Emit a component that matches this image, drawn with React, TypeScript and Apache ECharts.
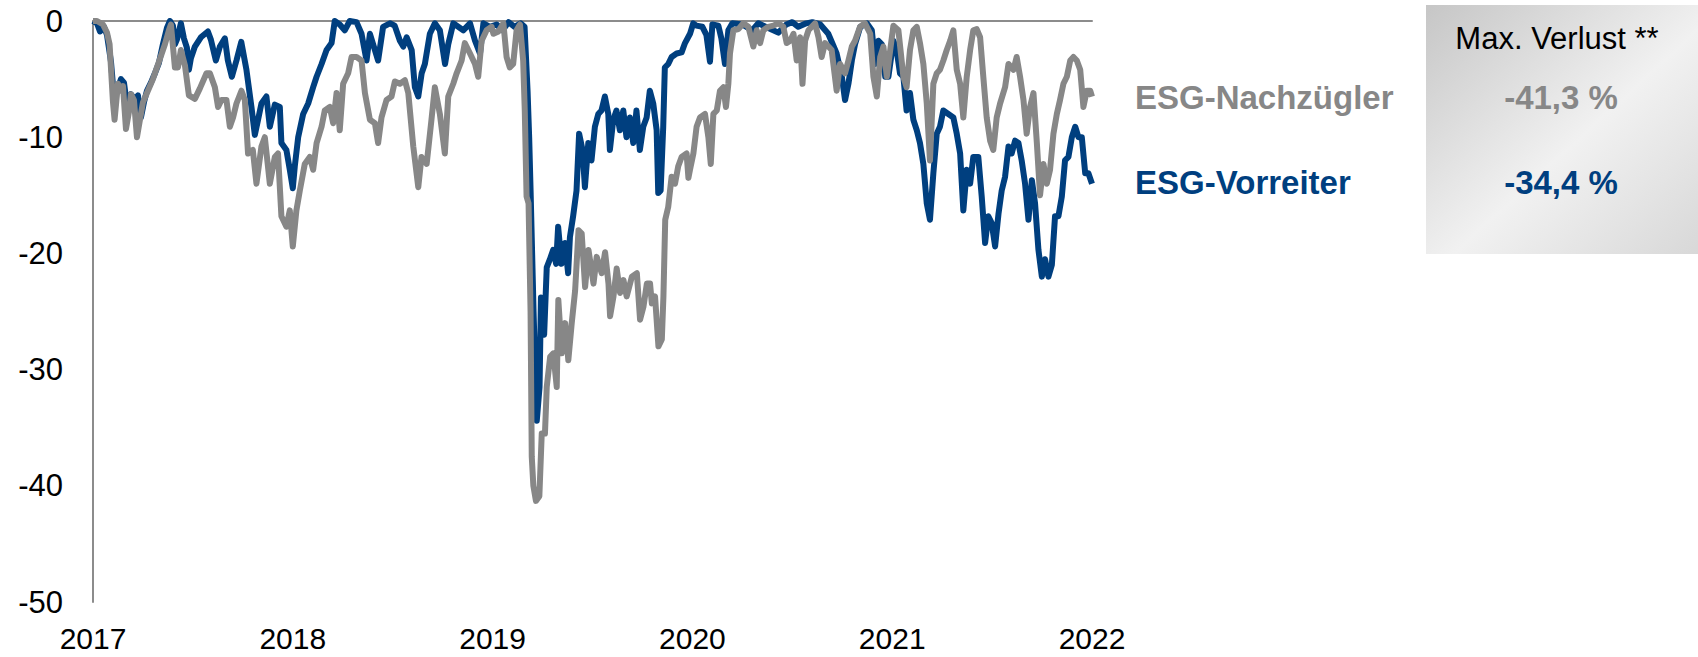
import React, { useEffect, useRef } from "react";
import * as echarts from "echarts";

type Pt = [number, number];

// x = decimal year, y = drawdown in %
const vorreiter2017: Pt[] = [
  [2017.0, 0], [2017.02, -0.2], [2017.035, -0.9], [2017.055, -0.5], [2017.07, -1.2], [2017.09, -3.5],
  [2017.105, -6.5], [2017.12, -6.0], [2017.14, -5.0], [2017.155, -5.3], [2017.17, -7.2], [2017.19, -6.3],
  [2017.21, -6.8], [2017.225, -6.4], [2017.24, -8.3], [2017.255, -7.0], [2017.27, -6.0], [2017.29, -5.3],
  [2017.31, -4.5], [2017.33, -3.6], [2017.35, -2.0], [2017.37, -0.6], [2017.385, 0], [2017.4, -0.4],
  [2017.41, -2.0], [2017.42, -1.6], [2017.44, -0.2], [2017.455, -1.5], [2017.47, -2.3], [2017.48, -4.2],
  [2017.49, -3.2], [2017.51, -2.2], [2017.54, -1.4], [2017.575, -0.9], [2017.59, -1.6], [2017.615, -3.4],
  [2017.635, -2.2], [2017.66, -1.5], [2017.675, -3.4], [2017.695, -4.8], [2017.718, -3.4], [2017.742, -1.8],
  [2017.768, -4.2], [2017.793, -7.4], [2017.81, -9.8], [2017.826, -8.5], [2017.843, -7.1], [2017.868, -6.5],
  [2017.885, -9.1], [2017.91, -7.2], [2017.935, -7.4], [2017.943, -10.5], [2017.968, -11.1], [2017.985, -12.8],
];
const vorreiter2018: Pt[] = [
  [2018.0, -14.4], [2018.01, -12.5], [2018.027, -10.0], [2018.052, -8.0], [2018.077, -7.1], [2018.102, -5.7],
  [2018.119, -4.8], [2018.144, -3.7], [2018.169, -2.5], [2018.194, -1.9], [2018.21, 0], [2018.235, -0.3],
  [2018.26, -0.8], [2018.285, 0], [2018.319, -0.1], [2018.344, -1.1], [2018.369, -3.4], [2018.386, -1.1],
  [2018.411, -2.5], [2018.427, -3.4], [2018.452, -0.5], [2018.486, -0.2], [2018.51, -0.4], [2018.536, -1.7],
  [2018.553, -2.2], [2018.57, -1.4], [2018.595, -2.5], [2018.611, -5.7], [2018.628, -6.5], [2018.645, -4.5],
  [2018.661, -3.7], [2018.686, -1.1], [2018.711, -0.2], [2018.736, -0.8], [2018.762, -3.7], [2018.778, -2.0],
  [2018.803, -0.2], [2018.853, -0.8], [2018.887, -0.2], [2018.912, -1.7], [2018.937, -2.8], [2018.954, -0.2],
  [2018.987, -0.5],
];
const vorreiter2019: Pt[] = [
  [2019.02, -0.3], [2019.05, -0.8], [2019.08, -0.1], [2019.11, -0.5], [2019.14, -0.2], [2019.16, -0.5],
  [2019.175, -6.0], [2019.183, -10.0], [2019.19, -14.5], [2019.205, -25.0], [2019.221, -34.4], [2019.235, -31.5],
  [2019.242, -23.8], [2019.258, -27.0], [2019.271, -21.2], [2019.287, -20.5], [2019.303, -19.7], [2019.318, -20.9],
  [2019.328, -17.7], [2019.345, -20.9], [2019.362, -19.1], [2019.378, -21.7], [2019.387, -18.6], [2019.403, -16.8],
  [2019.42, -14.6], [2019.433, -9.7], [2019.45, -11.1], [2019.462, -14.3], [2019.479, -10.5], [2019.495, -12.0],
  [2019.512, -9.1], [2019.529, -8.0], [2019.545, -7.7], [2019.562, -6.5], [2019.579, -8.0], [2019.587, -11.1],
  [2019.604, -8.5], [2019.62, -7.7], [2019.637, -9.4], [2019.654, -7.7], [2019.67, -10.0], [2019.687, -8.3],
  [2019.704, -10.5], [2019.72, -7.7], [2019.737, -11.1], [2019.754, -9.1], [2019.771, -8.3], [2019.787, -6.0],
  [2019.804, -7.1], [2019.821, -9.4], [2019.829, -14.8], [2019.841, -14.6], [2019.854, -9.1], [2019.862, -4.0],
  [2019.879, -3.7], [2019.896, -3.1], [2019.921, -2.8], [2019.946, -2.7], [2019.963, -1.9], [2019.988, -1.1],
];
const vorreiter2020: Pt[] = [
  [2020.004, -0.2], [2020.02, -0.4], [2020.05, -0.5], [2020.07, -1.2], [2020.088, -3.5], [2020.1, -0.3],
  [2020.13, -0.4], [2020.145, -1.5], [2020.163, -3.7], [2020.18, -0.8], [2020.2, -0.2], [2020.25, -0.3],
  [2020.3, -0.8], [2020.33, -0.2], [2020.38, -0.6], [2020.43, -1.0], [2020.47, -0.3], [2020.5, -0.1],
  [2020.53, -0.5], [2020.57, -0.2], [2020.6, -0.1], [2020.64, -0.3], [2020.68, -1.1], [2020.722, -2.8],
  [2020.748, -4.8], [2020.764, -6.8], [2020.781, -5.4], [2020.798, -3.4], [2020.814, -2.0], [2020.84, -0.5],
  [2020.873, -0.2], [2020.898, -0.8], [2020.915, -3.7], [2020.931, -1.7], [2020.948, -2.0], [2020.965, -4.8],
  [2020.981, -4.8],
];
const vorreiter2021: Pt[] = [
  [2021.006, -1.7], [2021.022, -2.5], [2021.039, -4.5], [2021.056, -4.8], [2021.072, -7.7], [2021.089, -6.2],
  [2021.106, -8.5], [2021.123, -9.4], [2021.139, -10.5], [2021.156, -12.3], [2021.173, -15.7], [2021.189, -17.1],
  [2021.206, -13.1], [2021.223, -9.7], [2021.239, -9.1], [2021.256, -7.7], [2021.281, -8.0], [2021.306, -8.3],
  [2021.323, -9.7], [2021.34, -11.4], [2021.356, -16.3], [2021.373, -12.8], [2021.39, -14.0], [2021.406, -11.7],
  [2021.431, -11.7], [2021.448, -15.1], [2021.465, -19.1], [2021.481, -16.8], [2021.498, -17.4], [2021.515, -19.4],
  [2021.532, -16.6], [2021.548, -14.6], [2021.565, -13.4], [2021.582, -10.8], [2021.598, -11.4], [2021.615, -10.3],
  [2021.632, -10.5], [2021.648, -12.0], [2021.665, -14.0], [2021.682, -17.1], [2021.699, -13.7], [2021.715, -15.7],
  [2021.732, -19.7], [2021.749, -22.0], [2021.765, -20.5], [2021.782, -22.0], [2021.799, -21.0], [2021.815, -16.8],
  [2021.832, -16.8], [2021.849, -15.1], [2021.865, -12.0], [2021.882, -11.7], [2021.899, -10.0], [2021.916, -9.1],
  [2021.932, -10.0], [2021.949, -10.0], [2021.966, -13.1], [2021.982, -13.1], [2022.0, -14.0],
];

const nachzuegler2017: Pt[] = [
  [2017.0, 0], [2017.02, 0], [2017.05, -0.3], [2017.07, -1.0], [2017.083, -2.0], [2017.1, -7.0],
  [2017.108, -8.5], [2017.125, -5.4], [2017.14, -6.0], [2017.15, -5.6], [2017.165, -9.3], [2017.18, -7.8],
  [2017.19, -6.3], [2017.205, -6.8], [2017.22, -10.0], [2017.235, -8.5], [2017.25, -7.0], [2017.27, -6.2],
  [2017.3, -5.0], [2017.33, -3.5], [2017.36, -2.0], [2017.38, -0.8], [2017.39, -0.3], [2017.41, -4.0],
  [2017.425, -4.0], [2017.44, -2.5], [2017.46, -3.8], [2017.48, -6.4], [2017.51, -6.7], [2017.535, -5.8],
  [2017.568, -4.5], [2017.585, -4.5], [2017.61, -5.7], [2017.626, -7.4], [2017.643, -6.8], [2017.668, -6.8],
  [2017.685, -9.1], [2017.701, -8.3], [2017.718, -7.1], [2017.743, -6.0], [2017.76, -6.8], [2017.776, -11.4],
  [2017.8, -11.1], [2017.818, -14.0], [2017.843, -10.8], [2017.86, -10.0], [2017.885, -14.0], [2017.91, -11.7],
  [2017.926, -11.4], [2017.943, -16.8], [2017.968, -17.7], [2017.985, -16.3],
];
const nachzuegler2018: Pt[] = [
  [2018.0, -19.4], [2018.018, -16.3], [2018.035, -14.6], [2018.06, -12.3], [2018.085, -11.7], [2018.102, -12.8],
  [2018.119, -10.5], [2018.144, -9.1], [2018.16, -7.7], [2018.185, -7.4], [2018.202, -8.8], [2018.219, -6.2],
  [2018.235, -9.4], [2018.252, -5.4], [2018.277, -4.5], [2018.294, -3.1], [2018.319, -3.1], [2018.344, -3.4],
  [2018.361, -6.2], [2018.386, -8.5], [2018.411, -8.8], [2018.427, -10.5], [2018.444, -8.3], [2018.469, -6.8],
  [2018.494, -6.5], [2018.511, -5.2], [2018.536, -5.4], [2018.561, -5.1], [2018.578, -6.2], [2018.603, -10.8],
  [2018.628, -14.3], [2018.644, -11.7], [2018.67, -12.3], [2018.694, -8.5], [2018.711, -5.7], [2018.736, -8.0],
  [2018.761, -11.4], [2018.778, -6.5], [2018.803, -5.4], [2018.82, -4.5], [2018.845, -3.4], [2018.861, -1.9],
  [2018.887, -2.8], [2018.912, -3.7], [2018.928, -4.8], [2018.945, -1.7], [2018.97, -0.8], [2018.995, -0.5],
];
const nachzuegler2019: Pt[] = [
  [2019.004, -1.1], [2019.029, -0.9], [2019.054, -0.2], [2019.07, -3.1], [2019.086, -4.0], [2019.103, -3.7],
  [2019.12, -0.8], [2019.137, -0.3], [2019.153, -3.4], [2019.161, -7.7], [2019.17, -15.1], [2019.18, -15.7],
  [2019.19, -25.0], [2019.196, -37.5], [2019.204, -40.0], [2019.217, -41.3], [2019.234, -40.9], [2019.246, -35.5],
  [2019.262, -35.5], [2019.271, -31.5], [2019.288, -28.9], [2019.304, -28.6], [2019.321, -31.5], [2019.329, -24.0],
  [2019.346, -28.6], [2019.363, -26.0], [2019.379, -29.2], [2019.396, -26.0], [2019.413, -23.2], [2019.43, -18.0],
  [2019.446, -18.3], [2019.463, -22.9], [2019.48, -19.7], [2019.505, -22.6], [2019.521, -20.3], [2019.546, -21.7],
  [2019.563, -19.9], [2019.58, -22.6], [2019.588, -25.4], [2019.605, -23.7], [2019.621, -21.3], [2019.638, -23.4],
  [2019.655, -22.3], [2019.671, -23.7], [2019.697, -22.0], [2019.722, -21.7], [2019.738, -25.7], [2019.755, -24.6],
  [2019.772, -22.6], [2019.788, -22.6], [2019.797, -24.3], [2019.813, -23.7], [2019.83, -28.0], [2019.847, -27.4],
  [2019.855, -23.7], [2019.864, -17.1], [2019.879, -16.0], [2019.896, -13.4], [2019.913, -14.0], [2019.929, -12.5],
  [2019.946, -11.7], [2019.971, -11.4], [2019.98, -13.5], [2019.988, -12.8],
];
const nachzuegler2020: Pt[] = [
  [2020.005, -11.4], [2020.021, -9.1], [2020.038, -8.3], [2020.063, -8.0], [2020.08, -10.0], [2020.092, -12.3],
  [2020.105, -8.0], [2020.122, -7.7], [2020.138, -6.0], [2020.155, -5.7], [2020.168, -7.4], [2020.18, -5.4],
  [2020.188, -2.8], [2020.205, -0.8], [2020.23, -0.7], [2020.255, -0.2], [2020.28, -0.5], [2020.305, -2.2],
  [2020.322, -0.8], [2020.339, -1.9], [2020.355, -0.8], [2020.38, -0.5], [2020.405, -0.4], [2020.43, -0.2],
  [2020.455, -0.5], [2020.472, -1.9], [2020.489, -1.7], [2020.506, -1.1], [2020.522, -3.4], [2020.539, -1.4],
  [2020.551, -5.4], [2020.564, -1.7], [2020.581, -0.8], [2020.597, -0.5], [2020.614, -0.2], [2020.631, -1.4],
  [2020.647, -3.1], [2020.664, -1.9], [2020.681, -2.2], [2020.697, -2.5], [2020.722, -6.0], [2020.739, -3.7],
  [2020.764, -4.5], [2020.781, -3.4], [2020.798, -2.2], [2020.814, -1.7], [2020.839, -0.5], [2020.864, -0.2],
  [2020.89, -1.1], [2020.906, -4.8], [2020.923, -6.5], [2020.94, -3.1], [2020.956, -2.2], [2020.973, -4.8],
  [2020.99, -2.5],
];
const nachzuegler2021: Pt[] = [
  [2021.006, -0.4], [2021.031, -0.8], [2021.056, -4.8], [2021.072, -5.7], [2021.089, -2.5], [2021.106, -0.8],
  [2021.123, -0.5], [2021.139, -1.9], [2021.156, -3.7], [2021.173, -7.1], [2021.189, -12.0], [2021.206, -5.4],
  [2021.223, -4.5], [2021.239, -4.2], [2021.256, -3.4], [2021.273, -2.5], [2021.29, -1.7], [2021.306, -0.8],
  [2021.323, -4.2], [2021.34, -5.4], [2021.356, -8.3], [2021.373, -4.8], [2021.39, -2.5], [2021.406, -0.8],
  [2021.423, -0.7], [2021.44, -1.4], [2021.456, -4.8], [2021.473, -8.3], [2021.49, -10.3], [2021.506, -11.1],
  [2021.523, -8.3], [2021.54, -7.1], [2021.565, -5.7], [2021.582, -3.7], [2021.607, -4.2], [2021.623, -3.1],
  [2021.64, -4.8], [2021.657, -6.8], [2021.673, -9.7], [2021.69, -7.4], [2021.707, -6.2], [2021.724, -10.5],
  [2021.74, -15.0], [2021.757, -12.3], [2021.774, -14.0], [2021.79, -12.8], [2021.807, -9.7], [2021.824, -8.0],
  [2021.84, -6.8], [2021.857, -5.4], [2021.874, -4.8], [2021.891, -3.4], [2021.907, -3.1], [2021.924, -3.4],
  [2021.941, -4.2], [2021.957, -7.4], [2021.974, -6.0], [2021.991, -6.0], [2022.0, -6.5],
];

const vorreiter: Pt[] = [...vorreiter2017, ...vorreiter2018, ...vorreiter2019, ...vorreiter2020, ...vorreiter2021];
const nachzuegler: Pt[] = [
  ...nachzuegler2017, ...nachzuegler2018, ...nachzuegler2019, ...nachzuegler2020, ...nachzuegler2021,
];

const yearTicks = [2017, 2018, 2019, 2020, 2021, 2022];
const seriesNames = ["ESG-Vorreiter", "ESG-Nachzügler"];
const maxLoss = ["-34,4 %", "-41,3 %"];
const tableHeader = "Max. Verlust **";

const BLUE = "#003f7f";
const GREY = "#878787";
const AXIS = "#8c8c8c";
const FONT = '"Liberation Sans", Arial, sans-serif';

export default function App() {
  const ref = useRef<HTMLDivElement>(null);

  useEffect(() => {
    if (!ref.current) return;
    const chart = echarts.init(ref.current, undefined, { renderer: "svg" });
    const grad = new echarts.graphic.LinearGradient(0, 0, 1, 1, [
      { offset: 0, color: "#c6c6c6" },
      { offset: 0.55, color: "#f1f1f1" },
      { offset: 1, color: "#d8d8d8" },
    ]);
    const txt = (text: string, x: number, y: number, fill: string, font: string, align: string) => ({
      type: "text",
      x,
      y,
      style: {
        text,
        fill,
        font,
        textAlign: align,
        textVerticalAlign: "middle",
        align,
        verticalAlign: "middle",
      },
    });
    chart.setOption({
      animation: false,
      backgroundColor: "#ffffff",
      textStyle: { fontFamily: FONT },
      grid: { left: 93, right: 606, top: 21, bottom: 55 },
      xAxis: [
        {
          type: "value",
          position: "bottom",
          min: yearTicks[0],
          max: yearTicks[yearTicks.length - 1],
          interval: 1,
          axisLine: { show: false, onZero: false },
          axisTick: { show: false },
          splitLine: { show: false },
          axisLabel: {
            color: "#000",
            fontSize: 30,
            lineHeight: 30,
            fontFamily: FONT,
            margin: 21,
            formatter: (v: number) => String(Math.round(v)),
          },
        },
        {
          type: "value",
          position: "top",
          min: yearTicks[0],
          max: yearTicks[yearTicks.length - 1],
          interval: 1,
          axisLine: { show: true, onZero: false, lineStyle: { color: AXIS, width: 2 } },
          axisTick: { show: false },
          splitLine: { show: false },
          axisLabel: { show: false },
        },
      ],
      yAxis: {
        type: "value",
        min: -50,
        max: 0,
        interval: 10,
        axisLine: { show: true, onZero: false, lineStyle: { color: AXIS, width: 2 } },
        axisTick: { show: false },
        splitLine: { show: false },
        axisLabel: { color: "#000", fontSize: 31, fontFamily: FONT, margin: 30 },
      },
      series: [
        {
          name: seriesNames[0],
          type: "line",
          xAxisIndex: 0,
          data: vorreiter,
          showSymbol: false,
          lineStyle: { color: BLUE, width: 6, join: "round" },
          itemStyle: { color: BLUE },
          z: 2,
        },
        {
          name: seriesNames[1],
          type: "line",
          xAxisIndex: 0,
          data: nachzuegler,
          showSymbol: false,
          lineStyle: { color: GREY, width: 6, join: "round" },
          itemStyle: { color: GREY },
          z: 3,
        },
      ],
      graphic: [
        {
          type: "rect",
          shape: { x: 1426, y: 5, width: 272, height: 249 },
          style: { fill: grad },
          z: 0,
        },
        txt(tableHeader, 1557, 38, "#000", `31px ${FONT}`, "center"),
        txt(seriesNames[1], 1135, 97, GREY, `bold 33px ${FONT}`, "left"),
        txt(maxLoss[1], 1561, 97, GREY, `bold 33px ${FONT}`, "center"),
        txt(seriesNames[0], 1135, 182, BLUE, `bold 33px ${FONT}`, "left"),
        txt(maxLoss[0], 1561, 182, BLUE, `bold 33px ${FONT}`, "center"),
      ],
    });
    return () => chart.dispose();
  }, []);

  return (
    <div
      ref={ref}
      style={{ position: "absolute", left: 0, top: 0, width: 1698, height: 657 }}
    />
  );
}
